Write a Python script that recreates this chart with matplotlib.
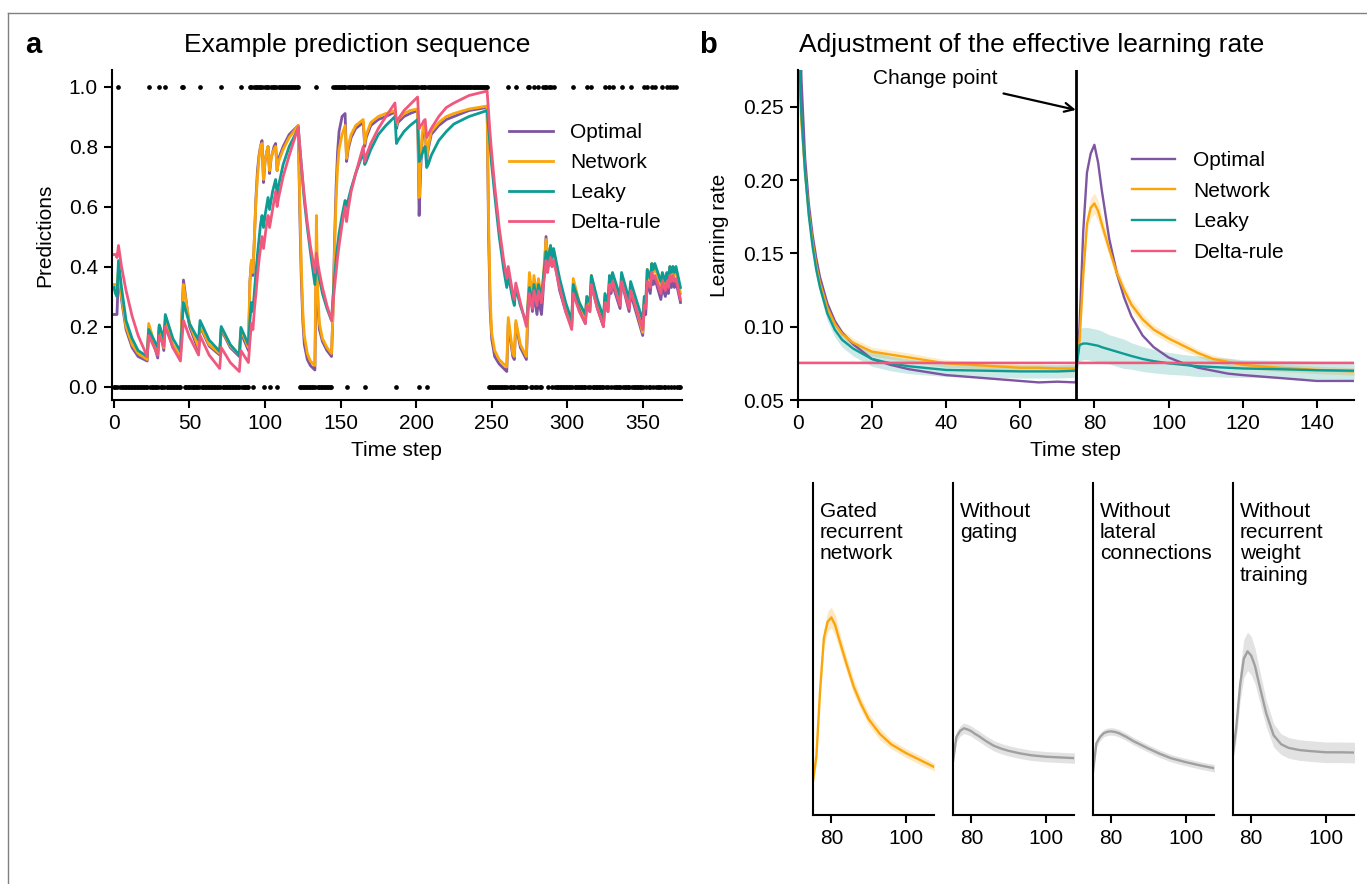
import matplotlib
matplotlib.use('Agg')
import matplotlib.pyplot as plt
import numpy as np
from matplotlib.lines import Line2D

plt.rcParams['font.family'] = ['Liberation Sans', 'DejaVu Sans']
plt.rcParams['axes.linewidth'] = 1.5

C_OPT = '#7d55a0'
C_NET = '#fba50a'
C_LEAK = '#0e9b94'
C_DELTA = '#f0587e'
C_GREY = '#a0a0a0'

# ---------- panel a data ----------
n_steps = 376
# runs of time steps where the observation was 1 (inclusive)
ones_runs = [(3, 3), (23, 23), (30, 30), (34, 34), (45, 46), (57, 57), (71, 71), (84, 84),
             (90, 91), (93, 98), (100, 102), (104, 107), (109, 122), (134, 134),
             (145, 153), (155, 165), (167, 186), (188, 201), (203, 206), (208, 247),
             (261, 261), (266, 266), (274, 275), (278, 278), (281, 281), (284, 286),
             (288, 289), (291, 291), (304, 304), (313, 313), (316, 316), (325, 325),
             (328, 328), (330, 330), (336, 336), (342, 342), (351, 351), (353, 353),
             (356, 356), (358, 358), (363, 363), (366, 366), (368, 368), (370, 370),
             (372, 372)]

t_a = [0, 1, 2, 3, 5, 8, 12, 16, 22,
       23, 29, 30, 33, 34, 39, 44, 45, 46, 50, 56, 57, 63, 70, 71, 77, 83, 84, 89,
       90, 91, 92, 93, 94, 95, 96, 97, 98, 99, 100, 101, 102, 103, 104, 105, 106, 107,
       108, 109, 112, 116, 122,
       123, 124, 125, 126, 128, 130, 133, 134, 135, 136, 138, 141, 144,
       145, 146, 147, 148, 149, 151, 153, 154, 155, 157, 160, 165, 166, 167, 170, 175,
       180, 186, 187, 188, 192, 196, 201, 202, 203, 204, 205, 206, 207, 208, 210, 215,
       220, 225, 235, 247,
       248, 249, 250, 252, 255, 258, 260, 261, 264, 265, 266, 269, 273, 274, 275, 277,
       278, 280, 281, 283, 284, 285, 286, 287, 288, 289, 290, 291, 295, 299, 303, 304,
       308, 312, 313, 315, 316, 320, 324, 325, 327, 328, 329, 330, 335, 336, 341, 342,
       350, 351, 352, 353, 355, 356, 357, 358, 362, 363, 365, 366, 367, 368, 369, 370,
       371, 372, 375]

pred_optimal = [.24, .24, .24, .38, .29, .19, .13, .10, .085,
                .20, .095, .20, .12, .21, .13, .095, .24, .355, .20, .12, .20, .135, .105, .19, .13, .10, .18, .12,
                .35, .42, .37, .50, .63, .72, .77, .80, .82, .68, .75, .78, .80, .71, .76, .78, .80, .81,
                .72, .76, .80, .84, .87,
                .58, .36, .22, .14, .09, .07, .055, .45, .27, .19, .15, .12, .10,
                .25, .48, .66, .78, .85, .90, .91, .75, .79, .83, .86, .88, .80, .83, .87, .89,
                .90, .915, .86, .88, .90, .91, .92, .57, .72, .82, .86, .87, .75, .79, .84, .87,
                .89, .90, .92, .93,
                .50, .26, .16, .10, .075, .06, .05, .21, .10, .09, .21, .13, .09, .24, .34, .25,
                .31, .24, .29, .24, .31, .40, .50, .41, .44, .46, .40, .44, .32, .25, .20, .33,
                .26, .21, .28, .25, .34, .26, .20, .28, .25, .33, .31, .34, .26, .35, .25, .31,
                .17, .26, .24, .35, .31, .37, .34, .36, .29, .33, .30, .33, .31, .36, .33, .36,
                .33, .35, .28]

pred_network = [.34, .34, .33, .39, .30, .20, .14, .11, .09,
                .21, .105, .205, .13, .22, .14, .10, .24, .34, .21, .13, .205, .14, .11, .195, .135, .105, .19, .13,
                .35, .42, .38, .50, .62, .70, .76, .80, .81, .69, .75, .78, .80, .72, .76, .78, .79, .80,
                .72, .75, .79, .83, .87,
                .62, .40, .25, .17, .11, .085, .07, .57, .30, .21, .16, .13, .11,
                .25, .45, .62, .73, .79, .84, .87, .76, .80, .84, .87, .89, .81, .84, .88, .90,
                .91, .92, .87, .89, .91, .92, .925, .63, .76, .84, .87, .87, .76, .80, .85, .88,
                .90, .91, .925, .935,
                .55, .30, .18, .12, .09, .075, .065, .23, .11, .10, .22, .14, .10, .28, .38, .30,
                .37, .30, .36, .29, .35, .42, .49, .43, .45, .47, .42, .45, .34, .26, .21, .36,
                .28, .23, .30, .27, .37, .28, .22, .30, .27, .36, .33, .37, .28, .37, .27, .33,
                .18, .29, .27, .39, .35, .41, .38, .40, .33, .37, .33, .37, .35, .40, .37, .40,
                .37, .39, .31]

pred_leaky = [.33, .31, .30, .42, .33, .22, .16, .12, .10,
              .19, .13, .205, .16, .24, .16, .117, .20, .28, .21, .155, .22, .155, .117, .20, .14, .105, .197, .14,
              .22, .28, .25, .32, .38, .44, .49, .54, .57, .53, .57, .60, .63, .59, .62, .65, .67, .69,
              .64, .67, .74, .80, .86,
              .80, .74, .68, .62, .53, .45, .34, .42, .39, .36, .31, .26, .22,
              .30, .36, .42, .47, .51, .57, .62, .60, .62, .66, .71, .78, .74, .75, .79, .84,
              .87, .90, .81, .82, .85, .87, .89, .75, .76, .775, .79, .80, .73, .74, .77, .82,
              .85, .875, .90, .92,
              .86, .80, .74, .64, .50, .39, .33, .37, .29, .27, .33, .27, .21, .27, .33, .28,
              .34, .29, .34, .30, .35, .40, .45, .41, .44, .47, .43, .46, .36, .28, .22, .34,
              .28, .24, .30, .28, .37, .29, .23, .31, .28, .37, .35, .38, .30, .38, .29, .35,
              .22, .30, .28, .39, .36, .41, .39, .41, .35, .38, .35, .38, .36, .40, .38, .40,
              .38, .40, .33]

pred_delta = [.44, .44, .43, .47, .40, .32, .235, .17, .10,
              .17, .105, .17, .135, .20, .13, .085, .155, .22, .165, .105, .17, .105, .06, .13, .08, .05, .12, .08,
              .15, .21, .19, .26, .31, .37, .42, .46, .50, .46, .50, .54, .57, .53, .56, .59, .62, .65,
              .60, .63, .70, .77, .865,
              .80, .74, .685, .635, .545, .47, .38, .445, .41, .38, .33, .27, .22,
              .28, .33, .38, .43, .47, .54, .60, .55, .59, .65, .71, .80, .75, .77, .81, .86,
              .90, .945, .88, .89, .92, .94, .965, .86, .87, .875, .885, .89, .83, .84, .86, .90,
              .93, .945, .97, .985,
              .91, .84, .78, .67, .53, .42, .36, .40, .31, .29, .345, .28, .20, .26, .31, .26,
              .32, .27, .32, .28, .33, .37, .42, .38, .41, .43, .40, .42, .33, .25, .19, .31,
              .25, .21, .27, .25, .34, .26, .20, .28, .25, .34, .32, .35, .27, .35, .26, .32,
              .19, .27, .26, .35, .33, .38, .36, .37, .31, .35, .32, .35, .33, .37, .35, .37,
              .35, .36, .29]

# ---------- panel b data ----------
t_b = [0, 1, 2, 3, 4, 5, 6, 8, 10, 12, 15, 20, 25, 30, 40, 50, 60, 65, 70, 75,
       76, 77, 78, 79, 80, 81, 82, 84, 86, 88, 90, 93, 96, 100, 104, 108, 112, 116, 120,
       130, 140, 150]
lr_optimal = [.50, .27, .215, .184, .163, .147, .134, .116, .104, .096, .088, .078, .074, .071,
              .067, .065, .063, .062, .0625, .062,
              .10, .165, .205, .218, .224, .212, .193, .16, .137, .12, .107, .094, .086, .079,
              .075, .072, .070, .068, .067, .065, .063, .063]
lr_network = [.30, .24, .205, .178, .158, .142, .13, .113, .102, .095, .089, .083, .081, .079,
              .075, .0735, .072, .072, .0715, .0715,
              .09, .135, .170, .181, .184, .179, .170, .153, .137, .125, .115, .105, .098, .092,
              .087, .082, .078, .076, .074, .072, .0705, .0695]
lr_network_sd = [.003, .003, .003, .003, .003, .003, .003, .003, .003, .003, .003, .003, .003, .003,
                 .0025, .0025, .0025, .0025, .0025, .0025,
                 .004, .005, .006, .007, .007, .007, .006, .005, .005, .004, .004, .004, .003,
                 .003, .003, .0025, .0025, .0025, .0025, .0025, .0025, .0025]
lr_leaky = [.32, .245, .205, .176, .155, .139, .127, .109, .098, .091, .085, .078, .075, .073,
            .0705, .070, .0695, .0695, .0695, .070,
            .0875, .0885, .0885, .088, .0875, .087, .086, .0845, .083, .0815, .080, .078, .0765,
            .075, .074, .073, .0725, .072, .0715, .071, .0703, .070]
lr_leaky_sd = [.004, .004, .004, .004, .004, .004, .004, .005, .005, .005, .005, .005, .005, .005,
               .0045, .0045, .0045, .0045, .0045, .0045,
               .011, .011, .011, .011, .011, .011, .011, .010, .010, .010, .009, .0085, .008,
               .0075, .007, .007, .0065, .0065, .006, .006, .006, .006]
lr_delta = 0.0755
lr_delta_sd = 0.0012
change_point = 75

# ---------- ablation data ----------
t_ab = [75, 76, 77, 78, 79, 80, 81, 82, 84, 86, 88, 90, 93, 96, 100, 104, 108]
lr_no_gating = [.085, .103, .107, .1088, .108, .1068, .105, .1035, .100, .097, .095, .0935,
                .0918, .0905, .0895, .089, .0885]
lr_no_gating_sd = [.003, .0035, .0035, .0035, .0035, .0035, .0035, .0035, .0035, .0035, .0035,
                   .0035, .0035, .0035, .0035, .0035, .0035]
lr_no_lateral = [.0775, .0986, .103, .1055, .1065, .1067, .1063, .1055, .103, .100, .0975, .095,
                 .0915, .0885, .0858, .0835, .0815]
lr_no_lateral_sd = [.002, .0025, .0025, .0025, .0025, .0025, .0025, .0025, .0025, .0025, .0025,
                    .0025, .0025, .0025, .0025, .0025, .0025]
lr_no_rec = [.0896, .11, .138, .156, .161, .158, .151, .14, .119, .104, .098, .0955, .094,
             .0933, .0925, .0925, .0923]
lr_no_rec_sd = [.004, .008, .011, .013, .013, .013, .012, .011, .009, .008, .007, .007, .007,
                .007, .007, .007, .007]
ablation_titles = ['Gated\nrecurrent\nnetwork', 'Without\ngating',
                   'Without\nlateral\nconnections', 'Without\nrecurrent\nweight\ntraining']

FS = 15

fig = plt.figure(figsize=(13.67, 8.84), dpi=100)
fig.patch.set_facecolor('white')


def style(ax):
    for s in ['top', 'right']:
        ax.spines[s].set_visible(False)
    ax.tick_params(direction='out', length=6, width=1.5, labelsize=FS, pad=4)


# ---------- panel a ----------
ax = fig.add_axes([0.0817, 0.5475, 0.4172, 0.3733])
style(ax)
steps = np.arange(n_steps)
obs = np.zeros(n_steps)
for a, b in ones_runs:
    obs[a:b + 1] = 1
ax.plot(steps, obs, 'o', ls='none', ms=3.4, mew=0, color='k', clip_on=False, zorder=5)
ax.plot(t_a, pred_optimal, color=C_OPT, lw=2.0, label='Optimal')
ax.plot(t_a, pred_network, color=C_NET, lw=2.0, label='Network')
ax.plot(t_a, pred_leaky, color=C_LEAK, lw=2.0, label='Leaky')
ax.plot(t_a, pred_delta, color=C_DELTA, lw=2.0, label='Delta-rule')
ax.set_xlim(-1.5, 376)
ax.set_ylim(-0.045, 1.055)
ax.set_xticks([0, 50, 100, 150, 200, 250, 300, 350])
ax.set_yticks([0, 0.2, 0.4, 0.6, 0.8, 1.0])
ax.set_xlabel('Time step', fontsize=FS, labelpad=6)
ax.set_ylabel('Predictions', fontsize=FS, labelpad=10)
ax.legend(loc='upper left', bbox_to_anchor=(0.3723, 1 - 123 / 884), bbox_transform=fig.transFigure,
          frameon=False, fontsize=FS, handlelength=2.1, handletextpad=0.85,
          labelspacing=0.53, borderpad=0, borderaxespad=0)

# ---------- panel b ----------
bx = fig.add_axes([0.5835, 0.5475, 0.4070, 0.3733])
style(bx)
tb = np.array(t_b)
for vals, sd, col in [(lr_network, lr_network_sd, C_NET), (lr_leaky, lr_leaky_sd, C_LEAK)]:
    v = np.array(vals)
    s = np.array(sd)
    bx.fill_between(tb, v - s, v + s, color=col, alpha=0.22, lw=0)
bx.plot(t_b, lr_optimal, color=C_OPT, lw=1.7, label='Optimal')
bx.plot(t_b, lr_network, color=C_NET, lw=1.7, label='Network')
bx.plot(t_b, lr_leaky, color=C_LEAK, lw=1.7, label='Leaky')
bx.axhspan(lr_delta - lr_delta_sd, lr_delta + lr_delta_sd, color=C_DELTA, alpha=0.25, lw=0)
bx.axhline(lr_delta, color=C_DELTA, lw=1.7, label='Delta-rule')
bx.axvline(change_point, color='k', lw=2, zorder=4)
bx.set_xlim(0, 150)
bx.set_ylim(0.05, 0.275)
bx.set_xticks([0, 20, 40, 60, 80, 100, 120, 140])
bx.set_yticks([0.05, 0.10, 0.15, 0.20, 0.25])
bx.set_xlabel('Time step', fontsize=FS, labelpad=6)
bx.set_ylabel('Learning rate', fontsize=FS, labelpad=10)
bx.text(37, 0.2689, 'Change point', fontsize=FS, ha='center', va='center')
bx.annotate('', xy=(change_point, 0.2478), xytext=(55.5, 0.259),
            arrowprops=dict(arrowstyle='->', color='k', lw=1.6, mutation_scale=16,
                            shrinkA=0, shrinkB=0))
bx.legend(loc='upper left', bbox_to_anchor=(0.8279, 1 - 151 / 884), bbox_transform=fig.transFigure,
          frameon=False, fontsize=FS, handlelength=2.1, handletextpad=0.85,
          labelspacing=0.56, borderpad=0, borderaxespad=0)

# ---------- ablation panels ----------
lefts = [0.5945, 0.6969, 0.7993, 0.9017]
series = [(t_b, lr_network, lr_network_sd, C_NET),
          (t_ab, lr_no_gating, lr_no_gating_sd, C_GREY),
          (t_ab, lr_no_lateral, lr_no_lateral_sd, C_GREY),
          (t_ab, lr_no_rec, lr_no_rec_sd, C_GREY)]
for left, (tt, vals, sd, col), title in zip(lefts, series, ablation_titles):
    sx = fig.add_axes([left, 0.0781, 0.0887, 0.3752])
    style(sx)
    v = np.array(vals)
    s = np.array(sd)
    sx.fill_between(tt, v - s, v + s, color=col, alpha=0.25 if col == C_NET else 0.3, lw=0)
    sx.plot(tt, vals, color=col, lw=1.7)
    sx.set_xlim(75, 107.5)
    sx.set_ylim(0.05, 0.275)
    sx.set_xticks([80, 100])
    sx.tick_params(axis='y', left=False, labelleft=False)
    sx.text(0.06, 0.945, title, transform=sx.transAxes, ha='left', va='top',
            fontsize=FS, linespacing=1.16)

# ---------- titles, panel letters, frame ----------
fig.text(357 / 1367, 1 - 45 / 884, 'Example prediction sequence', fontsize=19,
         ha='center', va='center')
fig.text(1032 / 1367, 1 - 45 / 884, 'Adjustment of the effective learning rate', fontsize=19,
         ha='center', va='center')
fig.text(25 / 1367, 1 - 45 / 884, 'a', fontsize=21, fontweight='bold', ha='left', va='center')
fig.text(699 / 1367, 1 - 45 / 884, 'b', fontsize=21, fontweight='bold', ha='left', va='center')

fx = 8.3 / 1367
fy = 1 - 13.3 / 884
fig.add_artist(Line2D([fx, 1], [fy, fy], transform=fig.transFigure, color='#808080', lw=1))
fig.add_artist(Line2D([fx, fx], [0, fy], transform=fig.transFigure, color='#808080', lw=1))

fig.savefig('out.png', dpi=100, facecolor='white')
